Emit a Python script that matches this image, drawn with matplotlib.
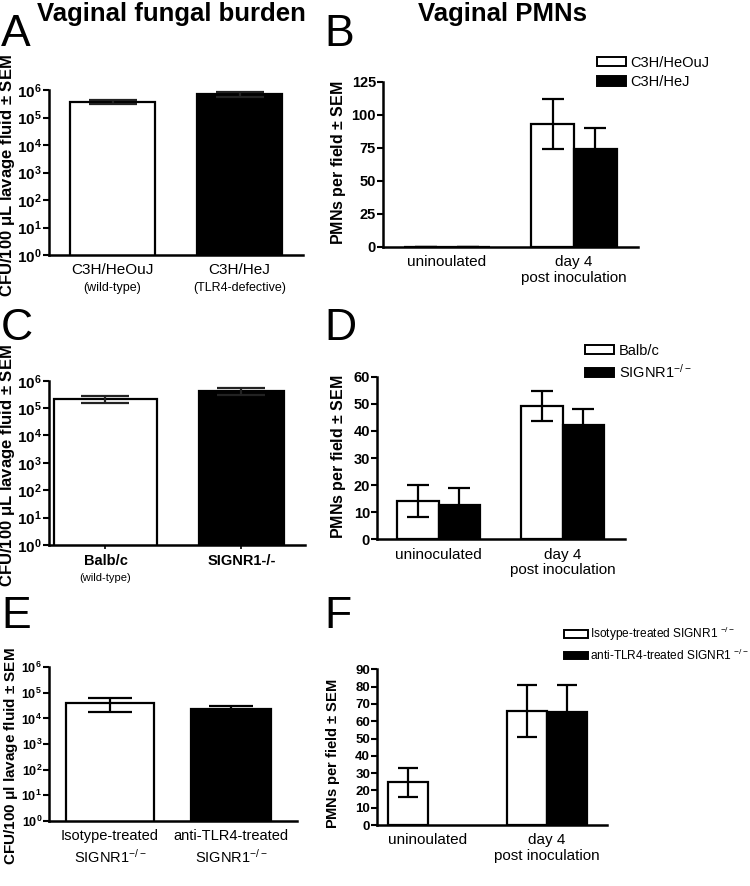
import matplotlib
matplotlib.use("Agg")
import matplotlib.pyplot as plt
import numpy as np
from matplotlib.patches import Patch
from matplotlib.transforms import blended_transform_factory

plt.rcParams['font.family'] = ['Liberation Sans', 'DejaVu Sans']
plt.rcParams['mathtext.fontset'] = 'custom'
plt.rcParams['mathtext.rm'] = 'Liberation Sans'
plt.rcParams['mathtext.bf'] = 'Liberation Sans:bold'
plt.rcParams['mathtext.it'] = 'Liberation Sans:italic'

# ---------------- data ----------------
# Panel A (fungal burden, CFU)
a_groups = ["C3H/HeOuJ", "C3H/HeJ"]
a_sub = ["(wild-type)", "(TLR4-defective)"]
a_vals = [3.7e5, 7.0e5]
a_err = [0.6e5, 1.6e5]

# Panel B (PMNs)
b_cats = ["uninoulated", "day 4\npost inoculation"]
b_series = ["C3H/HeOuJ", "C3H/HeJ"]
b_white = [0.0, 93.0]
b_white_err = [0.0, 19.0]
b_black = [0.0, 74.0]
b_black_err = [0.0, 16.0]

# Panel C
c_groups = ["Balb/c", "SIGNR1-/-"]
c_sub = ["(wild-type)", ""]
c_vals = [2.1e5, 4.2e5]
c_err = [0.6e5, 1.1e5]

# Panel D
d_cats = ["uninoculated", "day 4\npost inoculation"]
d_series = ["Balb/c", "SIGNR1$^{-/-}$"]
d_white = [14.1, 49.2]
d_white_err = [5.8, 5.5]
d_black = [12.7, 42.2]
d_black_err = [6.1, 6.0]

# Panel E
e_groups = ["Isotype-treated\nSIGNR1$^{-/-}$", "anti-TLR4-treated\nSIGNR1$^{-/-}$"]
e_vals = [4.1e4, 2.3e4]
e_err = [2.3e4, 0.8e4]

# Panel F
f_cats = ["uninoulated", "day 4\npost inoculation"]
f_series = ["Isotype-treated SIGNR1 $^{-/-}$", "anti-TLR4-treated SIGNR1 $^{-/-}$"]
f_white = [24.7, 66.1]
f_white_err = [8.4, 15.0]
f_black = [np.nan, 65.1]
f_black_err = [np.nan, 16.0]

W, H = 750, 886
fig = plt.figure(figsize=(7.5, 8.86), dpi=100)

def axes_px(x0, x1, y0, y1):
    return fig.add_axes([x0 / W, (H - y1) / H, (x1 - x0) / W, (y1 - y0) / H])

def style(ax, ticksize=10):
    ax.spines['top'].set_visible(False)
    ax.spines['right'].set_visible(False)
    for s in ['left', 'bottom']:
        ax.spines[s].set_linewidth(1.8)
    ax.tick_params(axis='y', direction='out', length=4, width=1.5, pad=1,
                   labelsize=ticksize)
    for t in ax.get_yticklabels():
        t.set_fontweight('bold')

def log_axis(ax):
    ax.set_yscale('log')
    ax.set_ylim(1, 1e6)
    ax.set_yticks([10.0 ** k for k in range(7)])
    ax.set_yticklabels([r'$\mathbf{10^{%d}}$' % k for k in range(7)])
    ax.yaxis.set_minor_locator(matplotlib.ticker.NullLocator())

lw = 1.6

# ---------- Panel A ----------
axA = axes_px(49, 303, 90, 255)
xA = np.arange(len(a_groups))
axA.bar(xA, a_vals, width=0.67, color=['white', 'black'], edgecolor='black',
        linewidth=lw, zorder=2)
axA.errorbar(xA, a_vals, yerr=a_err, fmt='none', ecolor='#222222',
             elinewidth=lw, capsize=17, capthick=lw, zorder=3)
axA.set_xlim(-0.5, 1.5)
log_axis(axA)
style(axA, 11)
axA.set_xticks(xA)
axA.set_xticklabels([])
axA.tick_params(axis='x', length=0)
tr = blended_transform_factory(axA.transData, axA.transAxes)
for i, (g, s) in enumerate(zip(a_groups, a_sub)):
    axA.text(xA[i], -0.05, g, transform=tr, ha='center', va='top', fontsize=11)
    axA.text(xA[i], -0.165, s, transform=tr, ha='center', va='top', fontsize=9)

# ---------- Panel C ----------
axC = axes_px(49, 305, 380.7, 545)
xC = np.arange(len(c_groups))
axC.bar(xC, c_vals, width=[0.757, 0.625], color=['white', 'black'],
        edgecolor='black', linewidth=lw, zorder=2)
axC.errorbar(xC, c_vals, yerr=c_err, fmt='none', ecolor='#222222',
             elinewidth=lw, capsize=17, capthick=lw, zorder=3)
axC.set_xlim(-0.415, 1.467)
log_axis(axC)
style(axC, 11)
axC.set_xticks(xC)
axC.set_xticklabels([])
axC.tick_params(axis='x', length=3, width=1.2)
tr = blended_transform_factory(axC.transData, axC.transAxes)
for i, (g, s) in enumerate(zip(c_groups, c_sub)):
    axC.text(xC[i], -0.055, g, transform=tr, ha='center', va='top', fontsize=10.5,
             fontweight='bold')
    if s:
        axC.text(xC[i], -0.17, s, transform=tr, ha='center', va='top', fontsize=8)

# ---------- Panel E ----------
axE = axes_px(49, 297, 667.3, 820.7)
xE = np.arange(len(e_groups))
axE.bar(xE, e_vals, width=[0.727, 0.661], color=['white', 'black'],
        edgecolor='black', linewidth=lw, zorder=2)
axE.errorbar(xE, e_vals, yerr=e_err, fmt='none', ecolor='black',
             elinewidth=lw, capsize=16, capthick=lw, zorder=3)
axE.set_xlim(-0.504, 1.545)
log_axis(axE)
style(axE, 9)
axE.set_xticks(xE)
axE.set_xticklabels(e_groups, fontsize=10.5, linespacing=1.35)
axE.tick_params(axis='x', length=0, pad=6)

# ---------- grouped bar panels ----------
def grouped(ax, cats, white, werr, black, berr, xlim, ylim, yticks, width,
            capsize, ticksize, catsize):
    x = np.arange(len(cats))
    ax.bar(x - width / 2, white, width=width, color='white', edgecolor='black',
           linewidth=lw, zorder=2)
    ax.bar(x + width / 2, black, width=width, color='black', edgecolor='black',
           linewidth=lw, zorder=2)
    ax.errorbar(x - width / 2, white, yerr=werr, fmt='none', ecolor='black',
                elinewidth=lw, capsize=capsize, capthick=lw, zorder=3)
    ax.errorbar(x + width / 2, black, yerr=berr, fmt='none', ecolor='black',
                elinewidth=lw, capsize=capsize, capthick=lw, zorder=3)
    ax.set_xlim(*xlim)
    ax.set_ylim(*ylim)
    ax.set_yticks(yticks)
    style(ax, ticksize)
    ax.set_xticks(x)
    ax.set_xticklabels(cats, fontsize=catsize, linespacing=1.15)
    ax.tick_params(axis='x', length=0, pad=6)
    return x

axB = axes_px(383, 638, 81.7, 246.7)
grouped(axB, b_cats, b_white, b_white_err, b_black, b_black_err,
        (-0.504, 1.504), (0, 125), [0, 25, 50, 75, 100, 125], 0.335, 8, 10.5, 11)

axD = axes_px(377, 625, 376.7, 539.3)
grouped(axD, d_cats, d_white, d_white_err, d_black, d_black_err,
        (-0.496, 1.504), (0, 60), list(range(0, 61, 10)), 0.335, 8, 10.5, 11)

axF = axes_px(377, 607, 669.3, 825)
grouped(axF, f_cats, f_white, f_white_err, f_black, f_black_err,
        (-0.429, 1.504), (0, 90), list(range(0, 91, 10)), 0.336, 7, 9.5, 11)

# ---------- legends ----------
def legend(ax, labels, anchor, fs, hl=2.0, tp=0.3):
    handles = [Patch(facecolor='white', edgecolor='black', linewidth=1.4),
               Patch(facecolor='black', edgecolor='black', linewidth=1.4)]
    ax.legend(handles, labels, loc='upper left', bbox_to_anchor=anchor,
              bbox_transform=fig.transFigure, frameon=False, fontsize=fs,
              handlelength=hl, handleheight=0.6, handletextpad=tp,
              labelspacing=0.35, borderaxespad=0, borderpad=0)

legend(axB, b_series, (597 / W, 1 - 56 / H), 10.5)
legend(axD, d_series, (585 / W, 1 - 344 / H), 10.5)
legend(axF, f_series, (564 / W, 1 - 625 / H), 8.6, hl=2.0, tp=0.15)

# ---------- y labels ----------
fig.text(8 / W, 1 - 176 / H, r'CFU/100 $\mathbf{\mu}$L lavage fluid $\mathbf{\pm}$ SEM',
         rotation=90, ha='center', va='center', fontsize=12, fontweight='bold')
fig.text(8 / W, 1 - 466 / H, r'CFU/100 $\mathbf{\mu}$L lavage fluid $\mathbf{\pm}$ SEM',
         rotation=90, ha='center', va='center', fontsize=12, fontweight='bold')
fig.text(11 / W, 1 - 756 / H, r'CFU/100 $\mathbf{\mu}$l lavage fluid $\mathbf{\pm}$ SEM',
         rotation=90, ha='center', va='center', fontsize=11, fontweight='bold')
fig.text(338 / W, 1 - 163 / H, r'PMNs per field $\mathbf{\pm}$ SEM',
         rotation=90, ha='center', va='center', fontsize=11.5, fontweight='bold')
fig.text(338 / W, 1 - 457 / H, r'PMNs per field $\mathbf{\pm}$ SEM',
         rotation=90, ha='center', va='center', fontsize=11.5, fontweight='bold')
fig.text(333 / W, 1 - 754 / H, r'PMNs per field $\mathbf{\pm}$ SEM',
         rotation=90, ha='center', va='center', fontsize=10.5, fontweight='bold')

# ---------- titles & panel letters ----------
fig.text(171 / W, 1 - 14 / H, 'Vaginal fungal burden', ha='center', va='center',
         fontsize=18.5, fontweight='bold')
fig.text(502 / W, 1 - 14 / H, 'Vaginal PMNs', ha='center', va='center',
         fontsize=18.5, fontweight='bold')
for letter, (x, y) in {'A': (1, 34), 'B': (324, 34), 'C': (1, 328), 'D': (324, 328),
                       'E': (1, 617), 'F': (324, 617)}.items():
    fig.text(x / W, 1 - y / H, letter, ha='left', va='center', fontsize=32)

fig.savefig('out.png', dpi=100)
